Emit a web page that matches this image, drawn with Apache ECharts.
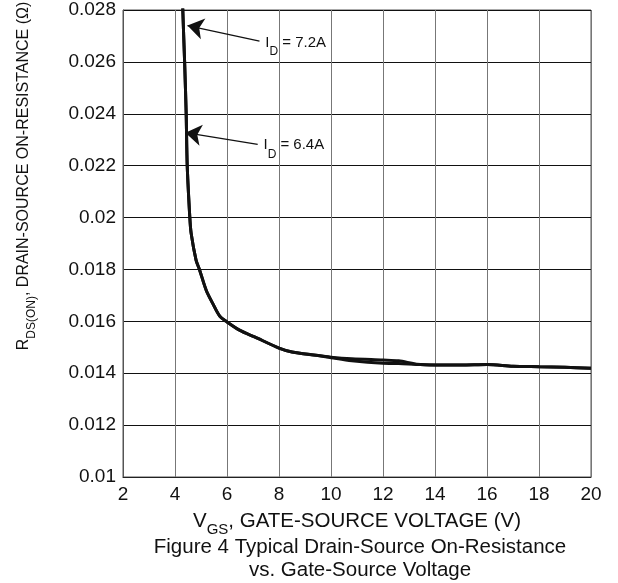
<!DOCTYPE html>
<html style="height: 100%">
    <head>
        <meta charset="utf-8">
    </head>
    <body style="height: 100%; margin: 0; background: #fff">
        <div id="container" style="width: 618px; height: 583px"></div>
        <script type="text/javascript" src="https://cdn.jsdelivr.net/npm/echarts@6/dist/echarts.min.js"></script>
    </body>
</html>
<script type="text/javascript">
    var dom = document.getElementById("container");
    var myChart = echarts.init(dom);
    var option;

    var FONT = "'Liberation Sans', Arial, sans-serif";

    // tick values
    var xTicks = [2, 4, 6, 8, 10, 12, 14, 16, 18, 20];
    var yTicks = [0.01, 0.012, 0.014, 0.016, 0.018, 0.02, 0.022, 0.024, 0.026, 0.028];

    // Vgs (V), Rds(on) (ohm)
    var id72 = [
        [4.28, 0.0290], [4.30, 0.0280], [4.37, 0.0260], [4.43, 0.0240], [4.47, 0.0220],
        [4.57, 0.0200], [4.62, 0.0194], [4.81, 0.01836], [4.94, 0.0180], [5.2, 0.0172],
        [5.45, 0.01669], [5.72, 0.0162], [5.97, 0.0160], [6.5, 0.01565], [7.06, 0.0154],
        [8.0, 0.01497], [8.5, 0.01482], [9.5, 0.01468], [10, 0.01462], [10.8, 0.01456],
        [12, 0.01451], [12.6, 0.01448], [13.3, 0.01435], [14, 0.01432], [15, 0.01432],
        [16, 0.01434], [17, 0.01427], [18, 0.01425], [19, 0.01423], [20, 0.01419]
    ];
    var id64 = [
        [4.28, 0.0290], [4.30, 0.0280], [4.37, 0.0260], [4.43, 0.0240], [4.47, 0.0220],
        [4.57, 0.0200], [4.62, 0.0194], [4.81, 0.01836], [4.94, 0.0180], [5.2, 0.0172],
        [5.45, 0.01669], [5.72, 0.0162], [5.97, 0.0160], [6.5, 0.01565], [7.06, 0.0154],
        [8.0, 0.01497], [8.5, 0.01482], [9.5, 0.01468], [10, 0.01460], [10.8, 0.01448],
        [12, 0.01438], [12.6, 0.01437], [13.3, 0.01434], [14, 0.01432], [15, 0.01432],
        [16, 0.01434], [17, 0.01427], [18, 0.01425], [19, 0.01423], [20, 0.01419]
    ];

    // annotation arrows: [label end, arrow tip]
    var arrow72 = [[7.25, 0.0268], [4.48, 0.0274]];
    var arrow64 = [[7.18, 0.02282], [4.40, 0.02327]];

    var labelRich = {
        i: { fontSize: 15, fontFamily: FONT, color: '#111' },
        s: { fontSize: 12, fontFamily: FONT, color: '#111', verticalAlign: 'bottom', padding: [0, 4, -8, 0] }
    };

    function arrowLine(pts, txt) {
        return {
            silent: true,
            animation: false,
            symbol: ['none', 'arrow'],
            symbolSize: 16,
            lineStyle: { color: '#111', width: 1.2, type: 'solid' },
            itemStyle: { color: '#111' },
            label: {
                show: true,
                position: 'start',
                distance: 6,
                formatter: '{i|I}{s|D}{i|= ' + txt + '}',
                rich: labelRich
            },
            data: [[{ coord: pts[0] }, { coord: pts[1] }]]
        };
    }

    option = {
        animation: false,
        grid: {
            left: 123,
            right: 27,
            top: 10,
            bottom: 106,
            show: true,
            borderColor: '#555',
            borderWidth: 1
        },
        xAxis: {
            type: 'value',
            min: xTicks[0],
            max: xTicks[xTicks.length - 1],
            interval: xTicks[1] - xTicks[0],
            axisLine: { show: true, lineStyle: { color: '#222' } },
            axisTick: { show: false },
            axisLabel: { color: '#111', fontSize: 19, fontFamily: FONT, margin: 8 },
            splitLine: { show: true, lineStyle: { color: '#777', width: 1 } },
            name: '{t|V}{s|GS}{t|, GATE-SOURCE VOLTAGE (V)}',
            nameLocation: 'middle',
            nameGap: 34,
            nameTextStyle: {
                rich: {
                    t: { fontSize: 20.5, fontFamily: FONT, color: '#111' },
                    s: { fontSize: 15, fontFamily: FONT, color: '#111', verticalAlign: 'bottom', padding: [0, 0, -5, 0] }
                }
            }
        },
        yAxis: {
            type: 'value',
            min: yTicks[0],
            max: yTicks[yTicks.length - 1],
            interval: 0.002,
            axisLine: { show: true, lineStyle: { color: '#555' } },
            axisTick: { show: false },
            axisLabel: { color: '#111', fontSize: 19, fontFamily: FONT, margin: 7 },
            splitLine: { show: true, lineStyle: { color: '#111', width: 1 } }
        },
        graphic: [
            {
                type: 'text',
                x: 24,
                y: 176,
                rotation: Math.PI / 2,
                style: {
                    text: '{t|R}{s|DS(ON)}{t|, DRAIN-SOURCE ON-RESISTANCE (Ω)}',
                    align: 'center',
                    verticalAlign: 'middle',
                    rich: {
                        t: { fontSize: 16, fontFamily: FONT, fill: '#111' },
                        s: { fontSize: 12, fontFamily: FONT, fill: '#111', verticalAlign: 'bottom', padding: [0, 0, -6, 0] }
                    }
                }
            },
            {
                type: 'text',
                x: 360,
                y: 536,
                style: {
                    text: 'Figure 4 Typical Drain-Source On-Resistance\nvs. Gate-Source Voltage',
                    align: 'center',
                    verticalAlign: 'top',
                    fontSize: 20.5,
                    lineHeight: 23,
                    fontFamily: FONT,
                    fill: '#111'
                }
            }
        ],
        series: [
            {
                name: 'ID = 7.2A',
                type: 'line',
                data: id72,
                showSymbol: false,
                smooth: 0.3,
                clip: true,
                lineStyle: { color: '#111', width: 3 },
                markLine: arrowLine(arrow72, '7.2A')
            },
            {
                name: 'ID = 6.4A',
                type: 'line',
                data: id64,
                showSymbol: false,
                smooth: 0.3,
                clip: true,
                lineStyle: { color: '#111', width: 3 },
                markLine: arrowLine(arrow64, '6.4A')
            }
        ]
    };

    if (option && typeof option === 'object') {
        myChart.setOption(option);
    }
</script>
